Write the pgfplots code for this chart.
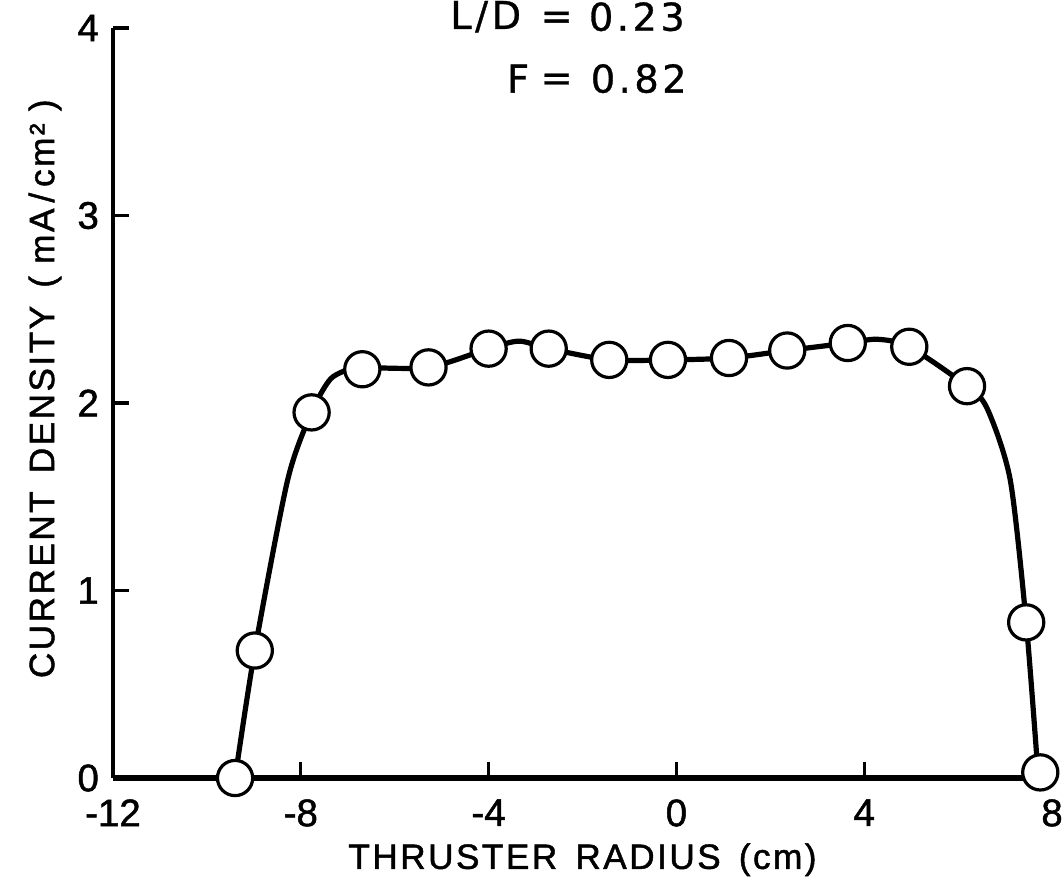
\documentclass[border=0pt]{standalone}
\usepackage{pgfplots}
\pgfplotsset{compat=1.18}
\usepackage{fontspec}
\setmainfont[FakeBold=1.3,BoldFont={Liberation Sans}]{Liberation Sans}
\newfontfamily\lblfont[LetterSpace=7,FakeBold=1.3]{Liberation Sans}
\newfontfamily\tckfont[FakeBold=1.3]{Liberation Sans}
\newfontfamily\annfont[LetterSpace=9,FakeBold=0.8]{DejaVu Sans}
\newfontfamily\eqfont[FakeBold=0.8]{DejaVu Sans}
\begin{document}
\begin{tikzpicture}
\begin{axis}[
  width=234.75pt, height=187.5pt, scale only axis,
  xmin=-12, xmax=8, ymin=0, ymax=4,
  axis x line=bottom, axis y line=left,
  axis line style={-, line width=1.1pt},
  xtick={-12,-8,-4,0,4,8}, ytick={0,1,2,3,4},
  tick align=inside, major tick length=4pt,
  tick style={line width=0.8pt, black},
  /pgf/number format/assume math mode=true,
  ticklabel style={font=\tckfont\fontsize{9.6}{11}\selectfont},
  xticklabel style={yshift=-1.8pt},
  yticklabel style={xshift=0pt},
  xlabel={THRUSTER\ \,RADIUS\ \,(cm)},
  ylabel={CURRENT\ \,DENSITY\ \,(\ mA\,/\,cm²\ )},
  label style={font=\lblfont\fontsize{8.8}{10}\selectfont},
  xlabel style={at={(axis description cs:0.5,-0.109)}, anchor=center},
  ylabel style={at={(axis description cs:-0.0724,0.519)}, anchor=center},
  clip=false,
]
% curve
\addplot[black, line width=1.3pt, smooth, tension=0.45] coordinates {
(-9.4,0) (-8.98,0.68) (-8.28,1.59) (-7.77,1.95) (-7.36,2.13) (-6.86,2.19)
(-6.69,2.19) (-5.28,2.19) (-4.0,2.29) (-3.35,2.33) (-2.72,2.29) (-1.43,2.23)
(-0.18,2.23) (1.12,2.24) (2.36,2.28) (3.65,2.32) (4.28,2.34) (4.96,2.30)
(6.19,2.09) (6.62,1.97) (7.11,1.59) (7.45,0.83) (7.70,0.03)
};
\addplot[black, line width=1.5pt] coordinates {(-12,0) (7.8,0)};
% measured points
\addplot[only marks, mark=*, mark size=4.4pt,
  mark options={fill=white, draw=black, line width=0.8pt}] coordinates {
(-9.4,0) (-8.98,0.68) (-7.77,1.95) (-6.69,2.18) (-5.28,2.19) (-4.0,2.29)
(-2.72,2.29) (-1.43,2.23) (-0.18,2.23) (1.12,2.24) (2.36,2.28) (3.65,2.32)
(4.96,2.30) (6.19,2.09) (7.45,0.83) (7.75,0.03)
};
\begin{scope}[every node/.style={font=\annfont\fontsize{9.6}{11}\selectfont, inner sep=0pt}]
\node[anchor=east] at (axis cs:-3.29,4.06) {L/D};
\node[anchor=center, font=\eqfont\fontsize{9.6}{11}\selectfont] at (axis cs:-2.55,4.04) {=};
\node[anchor=west] at (axis cs:-1.88,4.06) {0.23};
\node[anchor=east] at (axis cs:-3.12,3.73) {F};
\node[anchor=center, font=\eqfont\fontsize{9.6}{11}\selectfont] at (axis cs:-2.55,3.71) {=};
\node[anchor=west] at (axis cs:-1.84,3.73) {0.82};
\end{scope}
\end{axis}
\pgfresetboundingbox
\path ([shift={(-28.25pt,-25.5pt)}]current axis.south west) rectangle ([shift={(2.75pt,7pt)}]current axis.north east);
\end{tikzpicture}
\end{document}
